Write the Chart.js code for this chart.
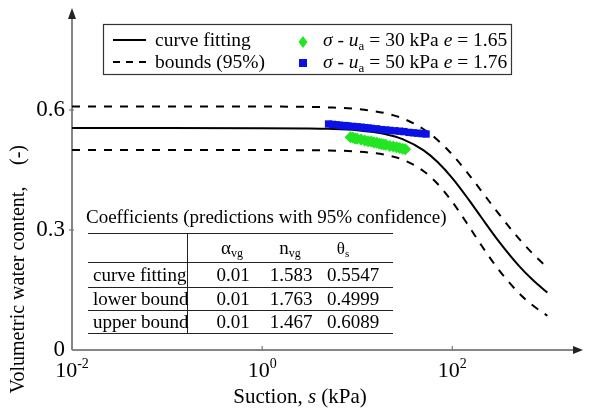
<!DOCTYPE html>
<html><head><meta charset="utf-8">
<script src="https://cdn.jsdelivr.net/npm/chart.js@4.4.0/dist/chart.umd.min.js"></script>
<style>html,body{margin:0;padding:0;background:#fff;}#wrap{width:589px;height:412px;position:relative;}</style>
</head><body><div id="wrap"><canvas id="c" width="589" height="412"></canvas></div>
<script>
// ---- data ----
const suction    = [0.01, 0.1, 1, 3, 5, 10, 20, 30, 50, 70, 100, 150, 200, 300, 500, 700, 1000];
const fitTheta   = [0.5547,0.5547,0.5546,0.5539,0.5529,0.5495,0.5395,0.5271,0.4989,0.4699,0.4297,0.3748,0.3331,0.2755,0.2111,0.1755,0.1435];
const lowerTheta = [0.4999,0.4999,0.4998,0.4995,0.4988,0.4962,0.4877,0.4760,0.4470,0.4155,0.3703,0.3088,0.2634,0.2040,0.1428,0.1117,0.0857];
const upperTheta = [0.6089,0.6089,0.6087,0.6078,0.6065,0.6024,0.5917,0.5791,0.5519,0.5251,0.4883,0.4381,0.3993,0.3440,0.2791,0.2411,0.2056];

const s50 = [5,5.5,6,6.5,7,7.5,8,9,10,11,12,13,14,16,18,20,22,25,28,31,35,39,43,48,53];
const t50 = [0.565,0.564,0.563,0.562,0.561,0.561,0.560,0.559,0.558,0.557,0.556,0.555,0.554,0.553,0.551,0.550,0.549,0.548,0.547,0.546,0.544,0.543,0.542,0.541,0.540];
const s30 = [8.5,9,9.5,10,11,12,13,14,15,16,17,18,19,20,22,24,26,28,30,32];
const t30 = [0.532,0.531,0.529,0.528,0.526,0.524,0.522,0.521,0.519,0.518,0.516,0.515,0.514,0.513,0.510,0.509,0.507,0.505,0.503,0.502];

const xTickValues = [0.01, 1, 100];
const xTickExps   = ['-2', '0', '2'];
const yTickValues = [0, 0.3, 0.6];
const yTickLabels = ['0', '0.3', '0.6'];

const tableTitle = 'Coefficients (predictions with 95% confidence)';
const tableRows  = ['curve fitting', 'lower bound', 'upper bound'];
const alphaVals  = ['0.01', '0.01', '0.01'];
const nVals      = ['1.583', '1.763', '1.467'];
const thetaVals  = ['0.5547', '0.4999', '0.6089'];

// ---- helpers ----
const FF = '"Liberation Serif", "Times New Roman", serif';
function fnt(sz, it){ return (it ? 'italic ' : '') + sz + 'px ' + FF; }
function rich(ctx, segs, x, y, align){
  let tot = 0; const ws = [];
  segs.forEach(s => { ctx.font = fnt(s.sz, s.it); const w = ctx.measureText(s.t).width; ws.push(w); tot += w; });
  let cx = align === 'center' ? x - tot/2 : (align === 'right' ? x - tot : x);
  ctx.textAlign = 'left'; ctx.textBaseline = 'alphabetic';
  segs.forEach((s,i) => { ctx.font = fnt(s.sz, s.it); ctx.fillText(s.t, cx, y + (s.dy || 0)); cx += ws[i]; });
}
const pts = (xs, ys) => xs.map((v,i) => ({x: v, y: ys[i]}));

const decor = {
  id: 'decor',
  beforeDatasetsDraw(chart){
    const ctx = chart.ctx, xs = chart.scales.x, ys = chart.scales.y, a = chart.chartArea;
    const x0 = xs.getPixelForValue(0.01), y0 = ys.getPixelForValue(0);
    ctx.save();
    ctx.strokeStyle = '#868686'; ctx.lineWidth = 2;
    ctx.beginPath(); ctx.moveTo(x0, y0); ctx.lineTo(a.right - 6, y0); ctx.stroke();
    ctx.beginPath(); ctx.moveTo(x0, y0); ctx.lineTo(x0, a.top + 6); ctx.stroke();
    ctx.fillStyle = '#222';
    ctx.beginPath(); ctx.moveTo(a.right, y0); ctx.lineTo(a.right - 10, y0 - 4); ctx.lineTo(a.right - 10, y0 + 4); ctx.closePath(); ctx.fill();
    ctx.beginPath(); ctx.moveTo(x0, a.top - 2); ctx.lineTo(x0 - 4, a.top + 9); ctx.lineTo(x0 + 4, a.top + 9); ctx.closePath(); ctx.fill();
    ctx.lineWidth = 1.2; ctx.strokeStyle = '#777';
    xTickValues.forEach(v => { if (v === 0.01) return; const px = xs.getPixelForValue(v); ctx.beginPath(); ctx.moveTo(px, y0); ctx.lineTo(px, y0 - 4); ctx.stroke(); });
    yTickValues.forEach(v => { if (v === 0) return; const py = ys.getPixelForValue(v); ctx.beginPath(); ctx.moveTo(x0 - 3, py); ctx.lineTo(x0 + 2, py); ctx.stroke(); });
    // tick labels
    ctx.fillStyle = '#000';
    xTickValues.forEach((v,i) => {
      const px = xs.getPixelForValue(v);
      rich(ctx, [{t:'10', sz:22}, {t:xTickExps[i], sz:14, dy:-9}], px, y0 + 27, 'center');
    });
    yTickValues.forEach((v,i) => {
      const py = ys.getPixelForValue(v);
      ctx.font = fnt(23); ctx.textAlign = 'right'; ctx.textBaseline = 'alphabetic';
      ctx.fillText(yTickLabels[i], 65, py + 6);
    });
    // axis titles
    rich(ctx, [{t:'Suction, ', sz:21}, {t:'s', sz:21, it:true}, {t:' (kPa)', sz:21}], 300, 403, 'center');
    ctx.save(); ctx.translate(19, 290); ctx.rotate(-Math.PI/2);
    ctx.font = fnt(20); ctx.textAlign = 'center'; ctx.textBaseline = 'middle';
    ctx.fillText('Volumetric water content,', 0, 0);
    ctx.restore();
    ctx.save(); ctx.translate(19, 155); ctx.rotate(-Math.PI/2);
    ctx.font = fnt(20); ctx.textAlign = 'center'; ctx.textBaseline = 'middle';
    ctx.fillText('(-)', 0, 0);
    ctx.restore();
    ctx.restore();
  },
  afterDraw(chart){
    const ctx = chart.ctx;
    ctx.save();
    // legend box
    ctx.fillStyle = '#fff'; ctx.fillRect(103, 24, 409, 50);
    ctx.strokeStyle = '#333'; ctx.lineWidth = 1.2; ctx.strokeRect(103.5, 24.5, 408, 50);
    ctx.strokeStyle = '#000'; ctx.lineWidth = 2;
    ctx.beginPath(); ctx.moveTo(113, 40); ctx.lineTo(146, 40); ctx.stroke();
    ctx.setLineDash([7, 6]);
    ctx.beginPath(); ctx.moveTo(113, 62); ctx.lineTo(146, 62); ctx.stroke();
    ctx.setLineDash([]);
    ctx.fillStyle = '#000';
    ctx.font = fnt(19.5); ctx.textAlign = 'left'; ctx.textBaseline = 'alphabetic';
    ctx.fillText('curve fitting', 155, 46);
    ctx.fillText('bounds (95%)', 155, 68);
    ctx.fillStyle = '#22e622';
    ctx.beginPath(); ctx.moveTo(303, 36); ctx.lineTo(307.5, 42); ctx.lineTo(303, 48); ctx.lineTo(298.5, 42); ctx.closePath(); ctx.fill();
    ctx.fillStyle = '#0a10e6';
    ctx.fillRect(299, 59, 8, 8);
    ctx.fillStyle = '#000';
    const lg = (p, e) => [{t:'\u03c3', sz:19.5, it:true}, {t:' - ', sz:19.5}, {t:'u', sz:19.5, it:true}, {t:'a', sz:13, dy:4}, {t:' = ' + p + ' kPa ', sz:19.5}, {t:'e', sz:19.5, it:true}, {t:' = ' + e, sz:19.5}];
    rich(ctx, lg('30', '1.65'), 323, 46, 'left');
    rich(ctx, lg('50', '1.76'), 323, 68, 'left');
    // table
    ctx.font = fnt(19); ctx.textAlign = 'left';
    ctx.fillText(tableTitle, 86, 223);
    ctx.strokeStyle = '#222'; ctx.lineWidth = 1;
    [233, 262, 287, 310, 333].forEach(y => { ctx.beginPath(); ctx.moveTo(88, y + 0.5); ctx.lineTo(393, y + 0.5); ctx.stroke(); });
    ctx.beginPath(); ctx.moveTo(187.5, 233); ctx.lineTo(187.5, 333); ctx.stroke();
    rich(ctx, [{t:'\u03b1', sz:19}, {t:'vg', sz:12, dy:3}], 232, 254, 'center');
    rich(ctx, [{t:'n', sz:19}, {t:'vg', sz:12, dy:3}], 290, 254, 'center');
    rich(ctx, [{t:'\u03b8', sz:17}, {t:'s', sz:11, dy:3}], 343, 254, 'center');
    const rb = [281, 305, 328];
    tableRows.forEach((r,i) => {
      ctx.font = fnt(19); ctx.textAlign = 'left'; ctx.fillText(r, 93, rb[i]);
      ctx.textAlign = 'center';
      ctx.fillText(alphaVals[i], 233, rb[i]);
      ctx.fillText(nVals[i], 291, rb[i]);
      ctx.fillText(thetaVals[i], 353, rb[i]);
    });
    ctx.restore();
  }
};

new Chart(document.getElementById('c').getContext('2d'), {
  type: 'scatter',
  data: { datasets: [
    { label: 'curve fitting', data: pts(suction, fitTheta), showLine: true, borderColor: '#000', borderWidth: 2, pointRadius: 0, cubicInterpolationMode: 'monotone', order: 5 },
    { label: 'lower bound', data: pts(suction, lowerTheta), showLine: true, borderColor: '#000', borderWidth: 2, borderDash: [8, 8], pointRadius: 0, cubicInterpolationMode: 'monotone', order: 4 },
    { label: 'upper bound', data: pts(suction, upperTheta), showLine: true, borderColor: '#000', borderWidth: 2, borderDash: [8, 8], pointRadius: 0, cubicInterpolationMode: 'monotone', order: 3 },
    { label: '30 kPa', data: pts(s30, t30), showLine: false, pointStyle: 'rectRot', pointRadius: 6, backgroundColor: '#22e622', borderColor: '#22e622', borderWidth: 0, order: 2 },
    { label: '50 kPa', data: pts(s50, t50), showLine: false, pointStyle: 'rect', pointRadius: 5.2, backgroundColor: '#0a10e6', borderColor: '#0a10e6', borderWidth: 0, order: 1 }
  ]},
  options: {
    responsive: false, animation: false, devicePixelRatio: 1,
    layout: { padding: { left: 72, right: 1, top: 10, bottom: 62 } },
    scales: {
      x: { type: 'logarithmic', min: 0.01, max: 2371, display: false },
      y: { type: 'linear', min: 0, max: 0.85, display: false }
    },
    plugins: { legend: { display: false }, tooltip: { enabled: false } },
    events: []
  },
  plugins: [decor]
});
</script></body></html>
